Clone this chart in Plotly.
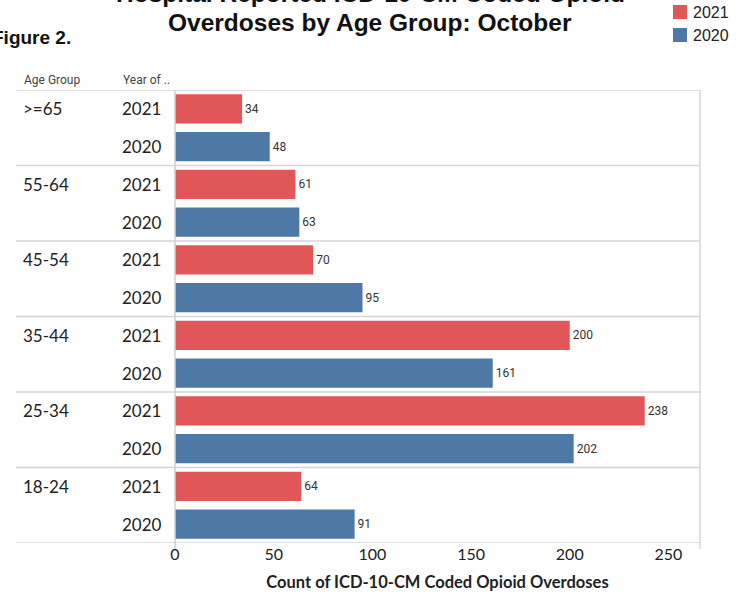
import plotly.graph_objects as go

age_groups = [">=65", "55-64", "45-54", "35-44", "25-34", "18-24"]
years = ["2021", "2020"]
values_2021 = [34, 61, 70, 200, 238, 64]
values_2020 = [48, 63, 95, 161, 202, 91]
x_ticks = [0, 50, 100, 150, 200, 250]
title_lines = ["Hospital Reported ICD-10-CM Coded Opioid", "Overdoses by Age Group: October"]

colors = {"2021": "#E15759", "2020": "#4E79A7"}
label_font = "Lato, 'Noto Sans', sans-serif"
narrow_font = "Roboto, 'Noto Sans', sans-serif"
title_font = "'Liberation Sans', Arial, sans-serif"

cats = [f"{g}|{y}" for g in age_groups for y in years]

fig = go.Figure()
for yr, vals in (("2021", values_2021), ("2020", values_2020)):
    fig.add_trace(go.Bar(
        name=yr,
        y=[f"{g}|{yr}" for g in age_groups],
        x=vals,
        orientation="h",
        width=0.77,
        marker=dict(color=colors[yr], line=dict(width=0)),
        text=[str(v) for v in vals],
        textposition="outside",
        cliponaxis=False,
        textfont=dict(family=narrow_font, size=12, color="#333333"),
        showlegend=False,
    ))

W, H = 746, 601
L, R, T, B = 175, 46, 90, 58
pw = W - L - R
ph = H - T - B

def px_x(p):
    return (p - L) / pw

def px_y(p):
    return (H - B - p) / ph

annotations = []
for i, g in enumerate(age_groups):
    annotations.append(dict(x=px_x(21), xref="paper", y=f"{g}|2021", yref="y",
                            text=g, showarrow=False, xanchor="left",
                            font=dict(family=label_font, size=17, color="#222222")))
    for yr in years:
        annotations.append(dict(x=px_x(120), xref="paper", y=f"{g}|{yr}", yref="y",
                                text=yr, showarrow=False, xanchor="left",
                                font=dict(family=label_font, size=17, color="#222222")))
annotations.append(dict(x=px_x(22), xref="paper", y=px_y(80), yref="paper", text="Age Group",
                        showarrow=False, xanchor="left", yanchor="middle",
                        font=dict(family=narrow_font, size=12, color="#444444")))
annotations.append(dict(x=px_x(121), xref="paper", y=px_y(80), yref="paper", text="Year of ..",
                        showarrow=False, xanchor="left", yanchor="middle",
                        font=dict(family=narrow_font, size=12, color="#444444")))
for line, bottom in zip(title_lines, (9, 38)):
    annotations.append(dict(x=px_x(370), xref="paper", y=px_y(bottom), yref="paper",
                            text=f"<b>{line}</b>",
                            showarrow=False, xanchor="center", yanchor="bottom",
                            font=dict(family=title_font, size=24.5, color="#111111")))
annotations.append(dict(x=px_x(-10), xref="paper", y=px_y(37), yref="paper",
                        text="<b>Figure 2.</b>", showarrow=False, xanchor="left", yanchor="middle",
                        font=dict(family=title_font, size=19, color="#111111")))

# legend (drawn by hand to match the reference's squares)
shapes = []
for yr, cy in (("2021", 12), ("2020", 35)):
    shapes.append(dict(type="rect", xref="paper", yref="paper",
                       x0=px_x(673), x1=px_x(687), y0=px_y(cy - 7), y1=px_y(cy + 7),
                       fillcolor=colors[yr], line=dict(width=0)))
    annotations.append(dict(x=px_x(691), xref="paper", y=px_y(cy), yref="paper", text=yr,
                            showarrow=False, xanchor="left", yanchor="middle",
                            font=dict(family=title_font, size=16, color="#222222")))

n = len(cats)
for k in range(0, n + 1, 2):
    shapes.append(dict(type="line", xref="paper", yref="y", x0=px_x(16), x1=1,
                       y0=k - 0.5, y1=k - 0.5, line=dict(color="#d6d6d6", width=1.5)))
shapes.append(dict(type="line", xref="paper", yref="paper", x0=0, x1=0, y0=px_y(549), y1=1,
                   line=dict(color="#d0d0d0", width=1.5)))
shapes.append(dict(type="line", xref="paper", yref="paper", x0=1, x1=1, y0=px_y(549), y1=1,
                   line=dict(color="#d6d6d6", width=1.5)))

fig.update_layout(
    width=W, height=H,
    margin=dict(l=L, r=R, t=T, b=B, autoexpand=False),
    paper_bgcolor="white", plot_bgcolor="white",
    barmode="overlay",
    showlegend=False,
    xaxis=dict(range=[0, 266], tickvals=x_ticks, ticktext=[str(t) for t in x_ticks],
               showgrid=False, zeroline=False, showline=False,
               tickfont=dict(family=label_font, size=16, color="#222222"),
               title=dict(text="<b>Count of ICD-10-CM Coded Opioid Overdoses</b>",
                          font=dict(family=label_font, size=16.5, color="#222222"), standoff=14)),
    yaxis=dict(categoryorder="array", categoryarray=cats, range=[n - 0.5, -0.5],
               showticklabels=False, showgrid=False, zeroline=False, showline=False),
    annotations=annotations,
    shapes=shapes,
)

fig.write_html("out.html", config={"displayModeBar": False},
               post_script="document.body.style.margin='0';document.body.style.overflow='hidden';")
